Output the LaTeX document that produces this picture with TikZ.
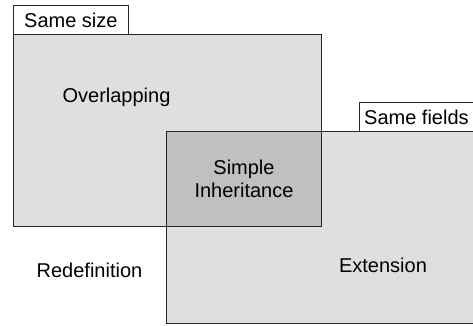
\documentclass[tikz,border=0pt]{standalone}
\usepackage{fontspec}
\setmainfont{Liberation Sans}
\usepackage{tikz}
\usetikzlibrary{positioning}
\definecolor{areagray}{HTML}{DFDFDF}
\definecolor{commongray}{HTML}{C0C0C0}
\definecolor{edgegray}{HTML}{262626}

\begin{document}
\begin{tikzpicture}[x=1pt, y=1pt, font=\fontsize{20}{23}\selectfont,
  region/.style={draw=edgegray, line width=1pt, fill=areagray, inner sep=0pt, anchor=north west},
  tagbox/.style={draw=edgegray, line width=1pt, fill=white, inner sep=0pt, anchor=north west},
  areaname/.style={inner sep=0pt, align=center}]
\useasboundingbox[fill=white] (0,0) rectangle (473,325);
% the two overlapping areas
\node[region, minimum width=308pt, minimum height=192pt] (size) at (13,291) {};
\node[region, minimum width=314pt, minimum height=192pt] (fields) at (166,194) {};
\node[region, fill=commongray, minimum width=155pt, minimum height=95pt] (common) at (166,194) {};
% tags
\node[tagbox, minimum width=115pt, minimum height=29pt] (sizetag) at (13,320) {};
\node[areaname, anchor=west] (sizetext) at ([xshift=11pt]sizetag.west) {Same size};
\node[tagbox, minimum width=121pt, minimum height=29pt] (fieldstag) at (359,223) {};
\node[areaname, anchor=west] (fieldstext) at ([xshift=5pt]fieldstag.west) {Same fields};
% area names
\node[areaname] (overlapping) at (116.5,228) {Overlapping};
\node[areaname] (simple) at (common.center) {Simple\\Inheritance};
\node[areaname] (redefinition) at (89.5,55) {Redefinition};
\node[areaname] (extension) at (383,60) {Extension};
\end{tikzpicture}
\end{document}
